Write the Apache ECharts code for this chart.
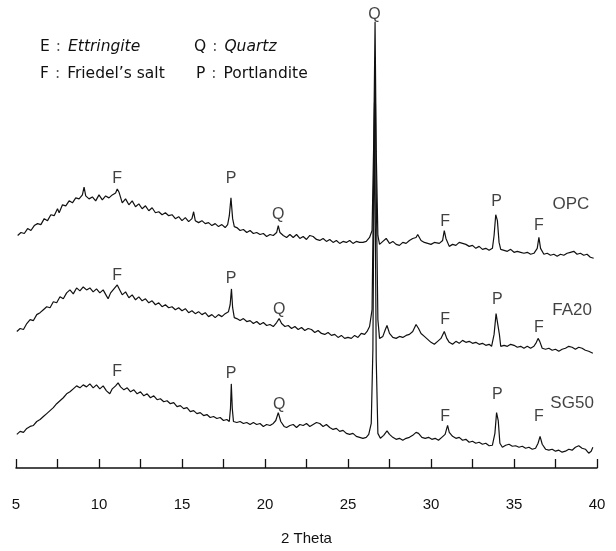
<!DOCTYPE html>
<html><head><meta charset="utf-8">
<script src="https://cdn.jsdelivr.net/npm/echarts@6/dist/echarts.min.js"></script>
<style>html,body{margin:0;padding:0;background:#fff}#c{width:616px;height:551px}</style>
</head><body><div id="c"></div>
<script>
// 2-theta ticks
const xTicks = [5, 10, 15, 20, 25, 30, 35, 40];
const sampleNames = ['OPC', 'FA20', 'SG50'];

// Intensity (a.u., stacked with offsets as plotted)
const opc = [
[5.1,235],[5.3,238],[5.5,237],[5.7,242],[5.9,240],[6.1,245],[6.3,247],[6.5,246],[6.7,252],[6.9,250],
[7.1,256],[7.3,255],[7.5,262],[7.6,258],[7.8,266],[8.0,265],[8.2,270],[8.4,268],[8.6,273],[8.8,272],
[9.0,276],[9.1,284],[9.2,275],[9.4,272],[9.6,274],[9.8,270],[10.0,276],[10.2,271],[10.4,275],[10.6,273],
[10.8,276],[11.0,278],[11.1,282],[11.2,279],[11.4,268],[11.6,272],[11.8,266],[12.0,270],[12.2,264],[12.4,267],
[12.6,262],[12.8,265],[13.0,260],[13.2,263],[13.4,258],[13.6,259],[13.8,256],[14.0,258],[14.2,255],[14.4,256],
[14.6,252],[14.8,254],[15.0,250],[15.2,253],[15.4,249],[15.6,252],[15.7,259],[15.8,250],[16.0,248],[16.2,250],
[16.4,247],[16.6,248],[16.8,245],[17.0,247],[17.2,244],[17.4,246],[17.6,243],[17.75,246],[17.85,255],[17.95,273],
[18.05,252],[18.15,244],[18.3,243],[18.5,240],[18.7,241],[18.9,238],[19.1,240],[19.3,237],[19.5,238],[19.7,236],
[19.9,237],[20.1,234],[20.3,236],[20.5,235],[20.7,238],[20.8,245],[20.9,238],[21.1,235],[21.3,233],[21.5,236],
[21.7,233],[21.9,236],[22.1,232],[22.3,234],[22.5,231],[22.7,235],[22.9,234],[23.1,231],[23.3,230],[23.5,232],
[23.7,229],[23.9,231],[24.1,228],[24.3,230],[24.5,227],[24.7,229],[24.9,228],[25.1,230],[25.3,227],[25.5,229],
[25.7,228],[25.9,228],[26.1,229],[26.3,233],[26.45,240],[26.55,330],[26.63,451],[26.7,320],[26.8,235],[26.9,226],
[27.1,229],[27.3,232],[27.5,227],[27.7,229],[27.9,226],[28.1,225],[28.3,228],[28.5,227],[28.7,230],[28.9,232],
[29.1,233],[29.2,236],[29.4,230],[29.6,228],[29.8,227],[30.0,226],[30.2,228],[30.5,227],[30.7,230],[30.8,240],
[30.9,232],[31.1,224],[31.3,226],[31.5,225],[31.7,228],[31.9,227],[32.1,226],[32.3,224],[32.5,225],[32.7,222],
[32.9,224],[33.1,221],[33.3,222],[33.5,220],[33.7,222],[33.8,235],[33.9,256],[34.0,250],[34.1,228],[34.2,221],
[34.4,220],[34.6,219],[34.8,221],[35.0,218],[35.2,219],[35.4,218],[35.6,217],[35.8,218],[36.0,216],[36.2,217],
[36.4,222],[36.5,233],[36.6,222],[36.8,216],[37.0,217],[37.2,215],[37.4,216],[37.6,214],[37.8,216],[38.0,215],
[38.2,217],[38.4,218],[38.6,219],[38.8,216],[39.0,217],[39.2,215],[39.4,216],[39.6,213],[39.8,212]
];
const fa20 = [
[5.05,138],[5.25,141],[5.45,140],[5.65,146],[5.85,150],[6.05,149],[6.25,155],[6.45,157],[6.65,160],[6.85,163],
[7.05,162],[7.25,168],[7.45,167],[7.65,173],[7.85,171],[8.05,177],[8.25,180],[8.45,176],[8.65,182],[8.85,179],
[9.05,183],[9.25,180],[9.45,182],[9.65,178],[9.85,181],[10.05,177],[10.25,180],[10.45,174],[10.55,171],[10.7,177],
[10.9,181],[11.1,185],[11.25,180],[11.4,175],[11.6,178],[11.8,172],[12.0,175],[12.2,170],[12.4,173],[12.6,169],
[12.8,171],[13.0,167],[13.2,169],[13.4,165],[13.6,167],[13.8,163],[14.0,165],[14.2,162],[14.4,163],[14.6,160],
[14.8,162],[15.0,159],[15.2,161],[15.4,157],[15.6,159],[15.8,156],[16.0,158],[16.2,155],[16.4,157],[16.6,153],
[16.8,155],[17.0,152],[17.2,155],[17.4,153],[17.6,156],[17.8,158],[17.9,165],[17.98,181],[18.05,162],[18.15,152],
[18.3,151],[18.5,149],[18.7,151],[18.9,148],[19.1,149],[19.3,146],[19.5,148],[19.7,145],[19.9,147],[20.1,144],
[20.3,145],[20.5,143],[20.7,147],[20.85,151],[21.0,146],[21.2,143],[21.4,144],[21.6,141],[21.8,143],[22.0,140],
[22.2,142],[22.4,139],[22.6,141],[22.8,140],[23.0,137],[23.2,139],[23.4,136],[23.6,135],[23.8,137],[24.0,134],
[24.2,135],[24.4,132],[24.6,134],[24.8,131],[25.0,132],[25.2,131],[25.4,134],[25.6,132],[25.8,136],[26.0,135],
[26.15,138],[26.3,143],[26.45,160],[26.55,300],[26.63,410],[26.7,280],[26.8,150],[26.9,131],[27.1,133],[27.25,140],
[27.35,144],[27.5,136],[27.7,132],[27.9,131],[28.1,133],[28.3,132],[28.5,134],[28.7,135],[28.9,138],[29.1,145],
[29.25,141],[29.4,136],[29.6,133],[29.8,130],[30.0,127],[30.2,125],[30.4,128],[30.6,131],[30.8,138],[30.95,131],
[31.1,127],[31.3,125],[31.5,128],[31.7,126],[31.9,129],[32.1,127],[32.3,128],[32.5,126],[32.7,127],[32.9,125],
[33.1,126],[33.3,124],[33.5,125],[33.65,123],[33.8,135],[33.92,156],[34.02,158],[34.12,135],[34.2,123],[34.4,124],
[34.6,123],[34.8,125],[35.0,124],[35.2,122],[35.4,123],[35.6,121],[35.8,123],[36.0,121],[36.2,123],[36.35,127],
[36.45,131],[36.55,128],[36.7,121],[36.9,120],[37.1,121],[37.3,119],[37.5,120],[37.7,118],[37.9,120],[38.1,121],
[38.3,123],[38.5,122],[38.7,120],[38.9,122],[39.1,121],[39.3,119],[39.5,118],[39.75,116]
];
const sg50 = [
[5.05,34],[5.25,37],[5.45,36],[5.65,40],[5.85,42],[6.05,43],[6.25,47],[6.45,49],[6.65,52],[6.85,55],
[7.05,58],[7.25,61],[7.45,65],[7.65,68],[7.85,71],[8.05,75],[8.25,77],[8.45,80],[8.65,83],[8.85,81],
[9.05,84],[9.25,82],[9.45,85],[9.65,81],[9.85,84],[10.05,80],[10.25,83],[10.45,78],[10.65,75],[10.8,80],
[11.0,83],[11.15,86],[11.3,82],[11.5,79],[11.7,81],[11.9,77],[12.1,79],[12.3,75],[12.5,77],[12.7,73],
[12.9,75],[13.1,71],[13.3,73],[13.5,69],[13.7,70],[13.9,67],[14.1,68],[14.3,65],[14.5,66],[14.7,62],
[14.9,63],[15.1,60],[15.3,61],[15.5,57],[15.7,58],[15.9,55],[16.1,56],[16.3,53],[16.5,54],[16.7,51],
[16.9,52],[17.1,50],[17.3,51],[17.5,48],[17.7,49],[17.85,47],[17.92,60],[17.97,85],[18.03,60],[18.1,47],
[18.3,46],[18.5,47],[18.7,45],[18.9,46],[19.1,44],[19.3,46],[19.5,44],[19.7,45],[19.9,42],[20.1,44],
[20.3,43],[20.5,45],[20.65,48],[20.8,56],[20.95,47],[21.15,42],[21.3,41],[21.5,43],[21.7,44],[21.9,41],
[22.1,44],[22.3,43],[22.5,45],[22.7,42],[22.9,44],[23.1,46],[23.3,45],[23.5,42],[23.7,44],[23.9,41],
[24.1,39],[24.3,40],[24.5,37],[24.7,38],[24.9,35],[25.1,34],[25.3,35],[25.5,32],[25.7,31],[25.9,30],
[26.1,31],[26.25,34],[26.4,45],[26.5,120],[26.6,370],[26.7,110],[26.8,35],[26.95,30],[27.15,33],[27.35,37.5],
[27.5,34],[27.7,31],[27.9,29],[28.1,30],[28.3,28],[28.5,30],[28.7,31],[28.9,33],[29.1,36],[29.25,35],
[29.45,31],[29.65,30],[29.85,31],[30.05,29],[30.25,30],[30.45,28],[30.65,31],[30.85,34],[31.0,43],[31.1,36],
[31.3,32],[31.5,30],[31.7,31],[31.9,28],[32.1,29],[32.3,26],[32.5,27],[32.7,25],[32.9,26],[33.1,24],
[33.3,25],[33.5,22.5],[33.7,23],[33.85,35],[33.95,56],[34.05,48],[34.15,25],[34.3,21],[34.5,23],[34.7,24],
[34.9,22],[35.1,22.5],[35.3,21],[35.5,22],[35.7,20],[35.9,21],[36.1,19],[36.3,20],[36.45,25],[36.57,32],
[36.7,24],[36.9,19],[37.1,18],[37.3,19],[37.5,17],[37.7,18],[37.9,16],[38.1,17],[38.3,19],[38.5,18],
[38.7,21],[38.9,22.5],[39.1,20],[39.3,19],[39.5,15],[39.65,17],[39.75,21]
];

// Peak identification labels: [2theta, intensity, phase]
const peakLabels = [
[11.1,292,'F'],[17.95,292,'P'],[20.8,256,'Q'],[26.6,458,'Q'],[30.85,249,'F'],[33.95,269,'P'],[36.5,245,'F'],
[11.1,194,'F'],[17.95,191,'P'],[20.85,160,'Q'],[30.85,150,'F'],[34.0,170,'P'],[36.5,142,'F'],
[11.1,97,'F'],[17.95,95,'P'],[20.85,64,'Q'],[30.85,52,'F'],[34.0,74,'P'],[36.5,52,'F']
];
// Sample name positions: [2theta, intensity, name]
const sampleLabels = [[38.43,266,'OPC'],[38.5,159,'FA20'],[38.5,65,'SG50']];

const FONT = '"Liberation Sans", Arial, sans-serif';
const LFONT = '"DejaVu Sans", "Liberation Sans", sans-serif';
const chart = echarts.init(document.getElementById('c'), null, {renderer: 'canvas'});
const lineSeries = [opc, fa20, sg50].map((d, i) => ({
  name: sampleNames[i], type: 'line', data: d, showSymbol: false, symbol: 'none',
  lineStyle: {color: '#111', width: 1.2}, z: 3, animation: false
}));
const textSeries = (data, size) => ({
  type: 'scatter', data: data, symbolSize: 1, itemStyle: {color: 'rgba(0,0,0,0)'},
  label: {show: true, position: 'inside', formatter: p => p.data[2], color: '#111',
    fontFamily: FONT, fontSize: size}, z: 5, animation: false, silent: true
});
const rich = {
  n: {fontFamily: LFONT, fontSize: 15.5, fill: '#111'},
  c: {fontFamily: LFONT, fontSize: 15.5, fill: '#555', padding: [0, 7, 0, 6]},
  i: {fontFamily: LFONT, fontSize: 15.5, fill: '#111', fontStyle: 'italic'}
};
chart.setOption({
  animation: false,
  backgroundColor: '#fff',
  grid: {left: 16, right: 19, top: 0, bottom: 78},
  xAxis: {
    type: 'value', min: 5, max: 40, interval: 5,
    name: '2 Theta', nameLocation: 'middle', nameGap: 63,
    nameTextStyle: {fontFamily: FONT, fontSize: 15, color: '#111'},
    axisLine: {lineStyle: {color: '#111', width: 1.5}},
    axisTick: {inside: true, length: 9, lineStyle: {color: '#111', width: 1.3}},
    minorTick: {show: true, splitNumber: 2, length: 9, lineStyle: {color: '#111', width: 1.3}},
    splitLine: {show: false},
    axisLabel: {margin: 29, fontFamily: FONT, fontSize: 15, color: '#111',
      formatter: v => xTicks.indexOf(v) >= 0 ? String(v) : ''}
  },
  yAxis: {type: 'value', min: 0, max: 473, show: false},
  graphic: [
    {type: 'text', left: 40, top: 39, style: {text: '{n|E}{c|:}{i|Ettringite}', rich: rich}},
    {type: 'text', left: 194, top: 39, style: {text: '{n|Q}{c|:}{i|Quartz}', rich: rich}},
    {type: 'text', left: 40, top: 66, style: {text: '{n|F}{c|:}{n|Friedel\u2019s salt}', rich: rich}},
    {type: 'text', left: 196, top: 66, style: {text: '{n|P}{c|:}{n|Portlandite}', rich: rich}}
  ],
  series: lineSeries.concat([textSeries(peakLabels, 16), textSeries(sampleLabels, 17)])
});
</script></body></html>
